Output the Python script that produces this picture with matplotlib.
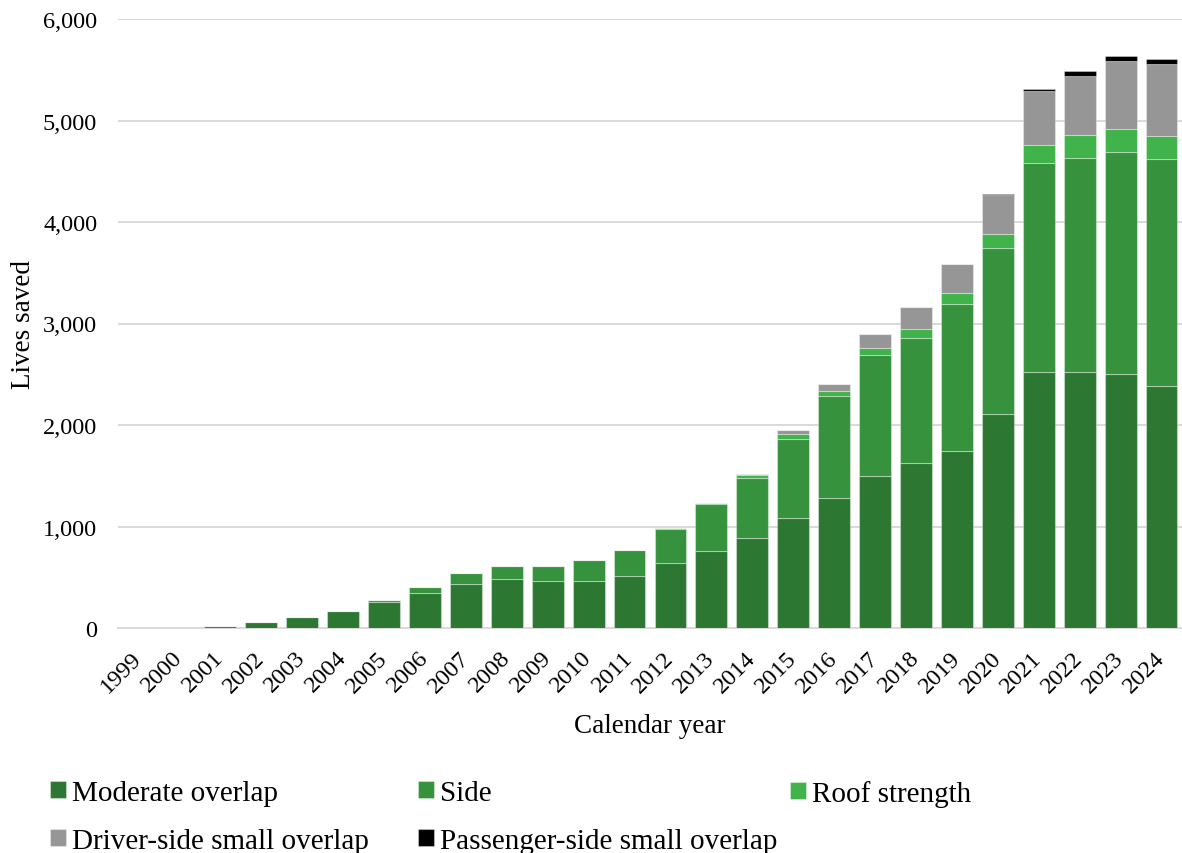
"""Stacked bar chart of lives saved by crash test program, per calendar year."""

import matplotlib
matplotlib.use("Agg")
import matplotlib.pyplot as plt
import numpy as np
from matplotlib.ticker import FuncFormatter

years = [str(y) for y in range(1999, 2025)]

moderate_overlap = [0, 3, 22, 55, 104, 171, 253, 348, 430, 479, 460, 460, 509,
                    638, 754, 886, 1083, 1282, 1499, 1622, 1740, 2113, 2527,
                    2518, 2506, 2387]
side = [0, 0, 0, 0, 0, 0, 22, 55, 115, 133, 152, 214, 258,
        341, 466, 595, 781, 999, 1187, 1240, 1454, 1630, 2051,
        2113, 2183, 2232]
roof_strength = [0, 0, 0, 0, 0, 0, 0, 0, 0, 0, 0, 0, 0,
                 8, 13, 30, 44, 53, 74, 86, 102, 139, 180,
                 222, 225, 229]
driver_small_overlap = [0, 0, 0, 0, 0, 0, 0, 0, 0, 0, 0, 0, 0,
                        3, 3, 10, 40, 70, 135, 213, 287, 381, 528,
                        589, 672, 709]
passenger_small_overlap = [0, 0, 0, 0, 0, 0, 0, 0, 0, 0, 0, 0, 0,
                           0, 0, 0, 0, 0, 0, 0, 0, 16, 27,
                           41, 45, 53]

series = [
    ("Moderate overlap", moderate_overlap, "#2c7832"),
    ("Side", side, "#36923c"),
    ("Roof strength", roof_strength, "#40b34a"),
    ("Driver-side small overlap", driver_small_overlap, "#969696"),
    ("Passenger-side small overlap", passenger_small_overlap, "#000000"),
]

plt.rcParams["font.family"] = ["Liberation Serif", "DejaVu Serif"]

fig = plt.figure(figsize=(11.82, 8.54), dpi=100)
ax = fig.add_axes([118 / 1182, 225 / 854, 1064 / 1182, 609 / 854])

x = np.arange(len(years))
bottom = np.zeros(len(years))
handles = {}
for name, values, color in series:
    vals = np.array(values, dtype=float)
    bars = ax.bar(x, vals, bottom=bottom, width=0.78, color=color,
                  edgecolor=(1, 1, 1, 0.35), linewidth=0.8, zorder=3,
                  label=name)
    handles[name] = bars
    bottom += vals

ax.set_xlim(-0.5, len(years) - 0.5)
ax.set_ylim(0, 6000)
ax.set_yticks(range(0, 6001, 1000))
ax.yaxis.set_major_formatter(FuncFormatter(lambda v, _: f"{int(v):,}"))
ax.grid(axis="y", color="#d9d9d9", linewidth=1.4, zorder=0)
for s in ["top", "right", "left"]:
    ax.spines[s].set_visible(False)
ax.spines["bottom"].set_color("#d9d9d9")
ax.spines["bottom"].set_linewidth(1.4)
ax.tick_params(axis="both", length=0, labelsize=17.5)
ax.tick_params(axis="y", pad=15)

ax.set_xticks(x)
ax.set_xticklabels(years, rotation=45, ha="right", va="center",
                   rotation_mode="anchor")
ax.tick_params(axis="x", pad=19)

ax.set_ylabel("Lives saved", fontsize=19.5, labelpad=5)
ax.set_xlabel("Calendar year", fontsize=19.5, labelpad=12)

# one legend per column so the columns sit at fixed positions
columns = [
    (50 / 1182, ["Moderate overlap", "Driver-side small overlap"]),
    (418 / 1182, ["Side", "Passenger-side small overlap"]),
    (790 / 1182, ["Roof strength"]),
]
for xpos, names in columns:
    fig.legend([handles[n] for n in names], names, loc="upper left",
               bbox_to_anchor=(xpos, 73 / 854), frameon=False, fontsize=21,
               handlelength=0.55, handleheight=0.55, handletextpad=0.2,
               labelspacing=0.75, borderaxespad=0, borderpad=0)

fig.savefig("out.png", dpi=100)
plt.close(fig)
